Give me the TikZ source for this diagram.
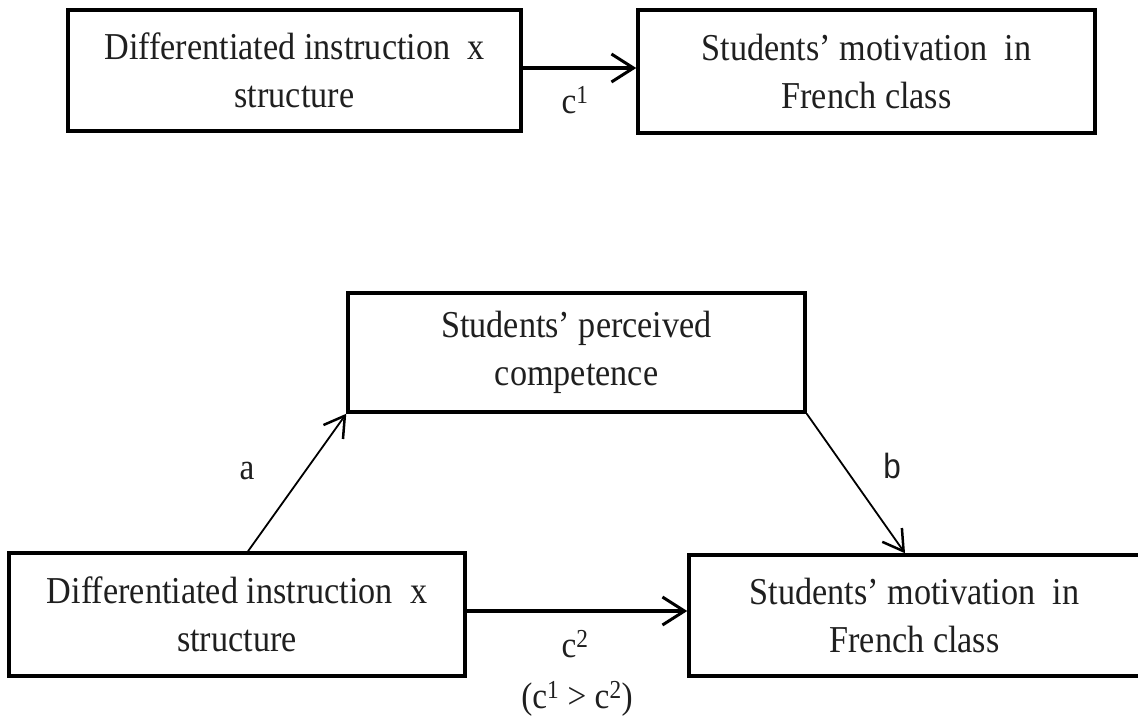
\documentclass[tikz,border=0pt]{standalone}
\usepackage{fontspec}
\setmainfont{Liberation Serif}[FakeStretch=0.9]
\newfontfamily\labsans{Liberation Sans}[FakeStretch=0.9]
\usetikzlibrary{arrows.meta}
\begin{document}
\begin{tikzpicture}[x=1pt,y=-1pt,
  boxnode/.style={draw, line width=3.5pt, rectangle, align=center, inner sep=0pt,
    font=\fontsize{38}{48}\selectfont, text=black!88},
  thickarrow/.style={line width=3.5pt, -{Straight Barb[length=22pt,width=28pt,line width=3pt]}},
  thinarrow/.style={line width=1.8pt, -{Straight Barb[length=20pt,width=24pt,line width=2.5pt]}},
  lab/.style={font=\fontsize{37}{44}\selectfont, anchor=base, inner sep=0pt, text=black!88},
]
\useasboundingbox (0,0) rectangle (1138,721);
% top model
\node[boxnode, minimum width=453pt, minimum height=121pt] (x1) at (294.5,70.5)
  {Differentiated instruction\hspace{0.45em}x\\structure};
\node[boxnode, minimum width=457pt, minimum height=123pt] (y1) at (866.5,71.5)
  {Students’ motivation\hspace{0.45em}in\\French class};
\draw[thickarrow] ([yshift=2.5pt]x1.east) -- ([yshift=2.5pt]x1.east -| y1.west);
\node[lab] (c1) at (575,113) {c\textsuperscript{1}};
% mediation model
\node[boxnode, minimum width=457pt, minimum height=119pt] (m) at (576.5,352.5)
  {Students’ perceived\\competence};
\node[boxnode, minimum width=456pt, minimum height=123pt] (x2) at (237,614.5)
  {Differentiated instruction\hspace{0.45em}x\\structure};
\node[boxnode, minimum width=451pt, minimum height=121pt] (y2) at (914.5,615.5)
  {Students’ motivation\hspace{0.45em}in\\French class};
\draw[thinarrow] ([xshift=11pt]x2.north) -- (m.south west);
\draw[thinarrow] (m.south east) -- ([xshift=-9.5pt]y2.north);
\draw[thickarrow] ([yshift=3.5pt]x2.east) -- ([yshift=3.5pt]x2.east -| y2.west);
\node[lab] (a) at (247,479) {a};
\node[lab, font=\labsans\fontsize{35}{42}\selectfont] (b) at (892,478) {b};
\node[lab] (c2) at (575,657) {c\textsuperscript{2}};
\node[lab] (cmp) at (577,708) {(c\textsuperscript{1} > c\textsuperscript{2})};
\end{tikzpicture}
\end{document}
